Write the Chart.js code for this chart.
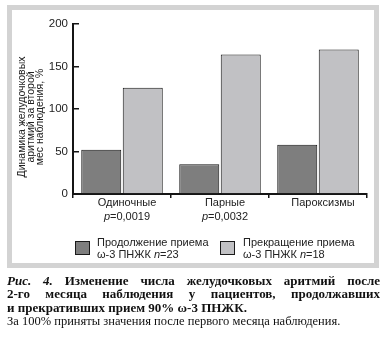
<!DOCTYPE html>
<html lang="ru">
<head>
<meta charset="utf-8">
<script src="https://cdn.jsdelivr.net/npm/chart.js@4/dist/chart.umd.min.js"></script>
<style>
  html, body { margin: 0; padding: 0; background: #fff; }
  body { width: 387px; height: 349px; position: relative; overflow: hidden; font-family: "Liberation Sans", Arial, sans-serif; color: #222; }
  #frame { position: absolute; left: 7px; top: 5px; width: 372px; height: 263px; box-sizing: border-box; border: 5px solid #d3d3d3; background: #fff; }
  #wrap { position: absolute; left: 0; top: 0; width: 387px; height: 240px; }
  .lg-box { position: absolute; width: 15px; height: 14px; box-sizing: border-box; border: 1px solid #1a1a1a; }
  .lg-text { position: absolute; font-size: 11px; line-height: 12px; white-space: nowrap; color: #222; }
  .cap { position: absolute; left: 7px; width: 373px; font-family: "Liberation Serif", "Times New Roman", serif; color: #111; white-space: nowrap; }
  .cap.b { font-weight: bold; font-size: 13px; text-align: justify; text-align-last: justify; white-space: normal; }
  .cap.last { text-align: left; text-align-last: left; }
  .cap.n { font-size: 12.5px; }
</style>
</head>
<body>
<div id="frame"></div>
<div id="wrap"><canvas id="chart" width="387" height="240"></canvas></div>

<div class="lg-box" id="box0" style="left:75px; top:241px;"></div>
<div class="lg-text" style="left:97px; top:236px;">Продолжение приема<br>ω-3 ПНЖК <i>n</i>=23</div>
<div class="lg-box" id="box1" style="left:220px; top:241px;"></div>
<div class="lg-text" style="left:243px; top:236px;">Прекращение приема<br>ω-3 ПНЖК <i>n</i>=18</div>

<div class="cap b" style="top:273px;"><i>Рис. 4.</i> Изменение числа желудочковых аритмий после</div>
<div class="cap b" style="top:286px;">2-го месяца наблюдения у пациентов, продолжавших</div>
<div class="cap b last" style="top:300px;">и прекративших прием 90% ω-3 ПНЖК.</div>
<div class="cap n" style="top:314px;">За 100% приняты значения после первого месяца наблюдения.</div>

<script>
// Arrhythmia categories and p-values shown under them
const categories = ['Одиночные', 'Парные', 'Пароксизмы'];
const pValues = ['0,0019', '0,0032', ''];

// Change in ventricular arrhythmias during month 2, % of month-1 level
const continuedIntake = [52, 35, 58];   // ω-3 continued, n=23
const stoppedIntake = [125, 164, 170];  // ω-3 stopped, n=18

const yTicks = [0, 50, 100, 150, 200];
const yTitle = ['Динамика желудочковых', 'аритмий за второй', 'мес наблюдения, %'];

const DARK = '#7e7e7e';
const LIGHT = '#c1c1c4';
const INK = '#151515';
const TEXT = '#222';

document.getElementById('box0').style.background = DARK;
document.getElementById('box1').style.background = LIGHT;

Chart.defaults.font.family = '"Liberation Sans", Arial, sans-serif';
Chart.defaults.color = TEXT;

// Category captions (with italic "p") and the rotated y-axis caption
const captions = {
  id: 'captions',
  afterDraw(chart) {
    const ctx = chart.ctx;
    const xs = chart.scales.x;
    ctx.save();
    ctx.fillStyle = TEXT;
    ctx.textBaseline = 'middle';
    categories.forEach((name, i) => {
      const cx = xs.getPixelForValue(i) + 5;
      ctx.font = '11px "Liberation Sans", Arial, sans-serif';
      ctx.textAlign = 'center';
      ctx.fillText(name, cx, 203);
      if (pValues[i]) {
        const rest = '=' + pValues[i];
        ctx.font = 'italic 11px "Liberation Sans", Arial, sans-serif';
        const wp = ctx.measureText('p').width;
        ctx.font = '11px "Liberation Sans", Arial, sans-serif';
        const wr = ctx.measureText(rest).width;
        const x0 = cx - (wp + wr) / 2;
        ctx.textAlign = 'left';
        ctx.font = 'italic 11px "Liberation Sans", Arial, sans-serif';
        ctx.fillText('p', x0, 217);
        ctx.font = '11px "Liberation Sans", Arial, sans-serif';
        ctx.fillText(rest, x0 + wp, 217);
      }
    });
    // y-axis caption, three rotated lines
    const ys = chart.scales.y;
    const cy = (ys.top + ys.bottom) / 2 + 8;
    const lineX = [22, 31, 40];
    ctx.font = '10.5px "Liberation Sans", Arial, sans-serif';
    ctx.textAlign = 'center';
    yTitle.forEach((line, i) => {
      ctx.save();
      ctx.translate(lineX[i], cy);
      ctx.rotate(-Math.PI / 2);
      ctx.fillText(line, 0, 0);
      ctx.restore();
    });
    ctx.restore();
  }
};

new Chart(document.getElementById('chart'), {
  type: 'bar',
  data: {
    labels: categories,
    datasets: [
      { label: 'Продолжение приема ω-3 ПНЖК n=23', data: continuedIntake, backgroundColor: DARK, borderColor: INK, borderWidth: 1 },
      { label: 'Прекращение приема ω-3 ПНЖК n=18', data: stoppedIntake, backgroundColor: LIGHT, borderColor: INK, borderWidth: 1 }
    ]
  },
  options: {
    responsive: false,
    animation: false,
    devicePixelRatio: 1,
    layout: { padding: { left: 14, top: 24, right: 20, bottom: 6 } },
    datasets: { bar: { categoryPercentage: 0.847, barPercentage: 0.964 } },
    plugins: { legend: { display: false }, tooltip: { enabled: false }, title: { display: false } },
    scales: {
      x: {
        offset: true,
        border: { display: true, color: INK, width: 2 },
        grid: {
          offset: true,
          drawOnChartArea: false,
          drawTicks: true,
          tickLength: 4,
          lineWidth: 1.5,
          color: c => (c.index === categories.length ? 'rgba(0,0,0,0)' : INK)
        },
        ticks: { display: false },
        afterFit(scale) { scale.height = 40; }
      },
      y: {
        min: 0,
        max: 200,
        border: { display: true, color: INK, width: 2 },
        grid: { drawOnChartArea: false, drawTicks: true, tickLength: -6, lineWidth: 1.5, color: INK },
        afterBuildTicks(scale) { scale.ticks = yTicks.map(v => ({ value: v })); },
        ticks: { padding: 11, font: { size: 11.5 }, color: TEXT },
        afterFit(scale) { scale.width = 59; }
      }
    }
  },
  plugins: [captions]
});
</script>
</body>
</html>
